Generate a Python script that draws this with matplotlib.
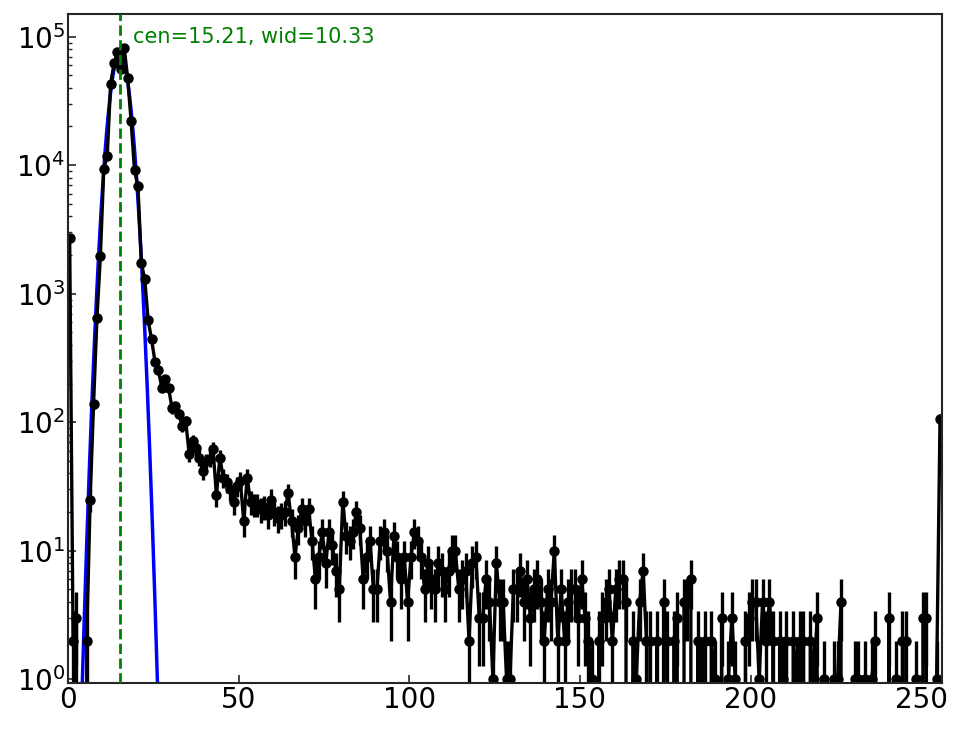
import numpy as np
import matplotlib
matplotlib.use("Agg")
import matplotlib.pyplot as plt

# histogram counts per bin (bins 0..255, plotted at bin centres)
counts = [
    2700, 2, 3, 0, 0, 2, 25, 138, 650, 1960,
    9400, 11700, 43000, 62000, 76000, 56000, 81000, 47500, 21900, 9100,
    6900, 1740, 1290, 620, 440, 295, 253, 186, 218, 183,
    128, 133, 116, 93, 102, 57, 71, 63, 53, 42,
    50, 52, 62, 27, 53, 37, 34, 30, 24, 32,
    35, 17, 37, 24, 23, 23, 21, 22, 19, 25,
    20, 18, 19, 20, 28, 17, 9, 15, 21, 17,
    21, 12, 6, 9, 14, 8, 14, 11, 7, 5,
    24, 13, 12, 14, 20, 15, 6, 9, 12, 5,
    5, 12, 14, 10, 4, 13, 9, 6, 9, 4,
    9, 14, 12, 9, 5, 8, 6, 5, 8, 7,
    5, 7, 10, 10, 5, 6, 7, 2, 8, 9,
    3, 3, 6, 4, 1, 8, 4, 4, 1, 1,
    5, 5, 7, 4, 6, 3, 5, 6, 4, 2,
    5, 4, 10, 2, 5, 2, 4, 5, 5, 3,
    6, 3, 2, 1, 0, 2, 3, 4, 5, 2,
    5, 6, 6, 4, 0, 2, 1, 4, 7, 2,
    2, 0, 2, 0, 4, 2, 0, 2, 3, 0,
    4, 4, 6, 0, 2, 1, 2, 0, 2, 1,
    0, 3, 0, 1, 3, 1, 0, 0, 2, 3,
    4, 4, 1, 4, 2, 4, 2, 0, 2, 1,
    2, 0, 2, 1, 2, 2, 0, 2, 1, 3,
    0, 1, 0, 0, 1, 1, 4, 0, 0, 0,
    1, 1, 0, 1, 0, 1, 2, 0, 0, 0,
    3, 0, 1, 0, 2, 2, 0, 0, 1, 0,
    3, 3, 0, 0, 1, 106,
]

# Gaussian fit parameters
fit_amp = 73000.0
fit_cen = 15.21
fit_sigma = 2.32
fit_label = "cen=15.21, wid=10.33"

counts = np.array(counts, dtype=float)
bins = np.arange(len(counts)) + 0.5
errs = np.sqrt(counts)

fig = plt.figure(figsize=(9.64, 7.29), dpi=100)
ax = fig.add_axes([0.0705, 0.0627, 0.9064, 0.9181])
ax.set_yscale("log")

xf = np.linspace(0, 60, 3000)
yf = fit_amp * np.exp(-(xf - fit_cen) ** 2 / (2 * fit_sigma ** 2))
ax.plot(xf, yf, color="#0000ff", lw=2.5, zorder=1)

ax.errorbar(bins, counts, yerr=errs, fmt="-o", color="k", lw=2.4, ms=6.5,
            elinewidth=2.4, capsize=0, zorder=2)

ax.axvline(fit_cen, color="g", ls="--", lw=2, zorder=3)
ax.text(19.0, 1.0e5, fit_label, color="g", fontsize=15, va="center", ha="left")

ax.set_xlim(0, 256)
ax.set_ylim(0.93, 1.5e5)
ax.set_xticks([0, 50, 100, 150, 200, 250])

for s in ax.spines.values():
    s.set_color("#262626")
    s.set_linewidth(1.5)
ax.tick_params(which="both", direction="in", top=False, right=False,
               colors="#262626", labelcolor="k")
ax.tick_params(which="major", length=6, width=1.2, labelsize=20, pad=2)
ax.tick_params(which="minor", length=3, width=1.0)

fig.savefig("out.png", dpi=100)
